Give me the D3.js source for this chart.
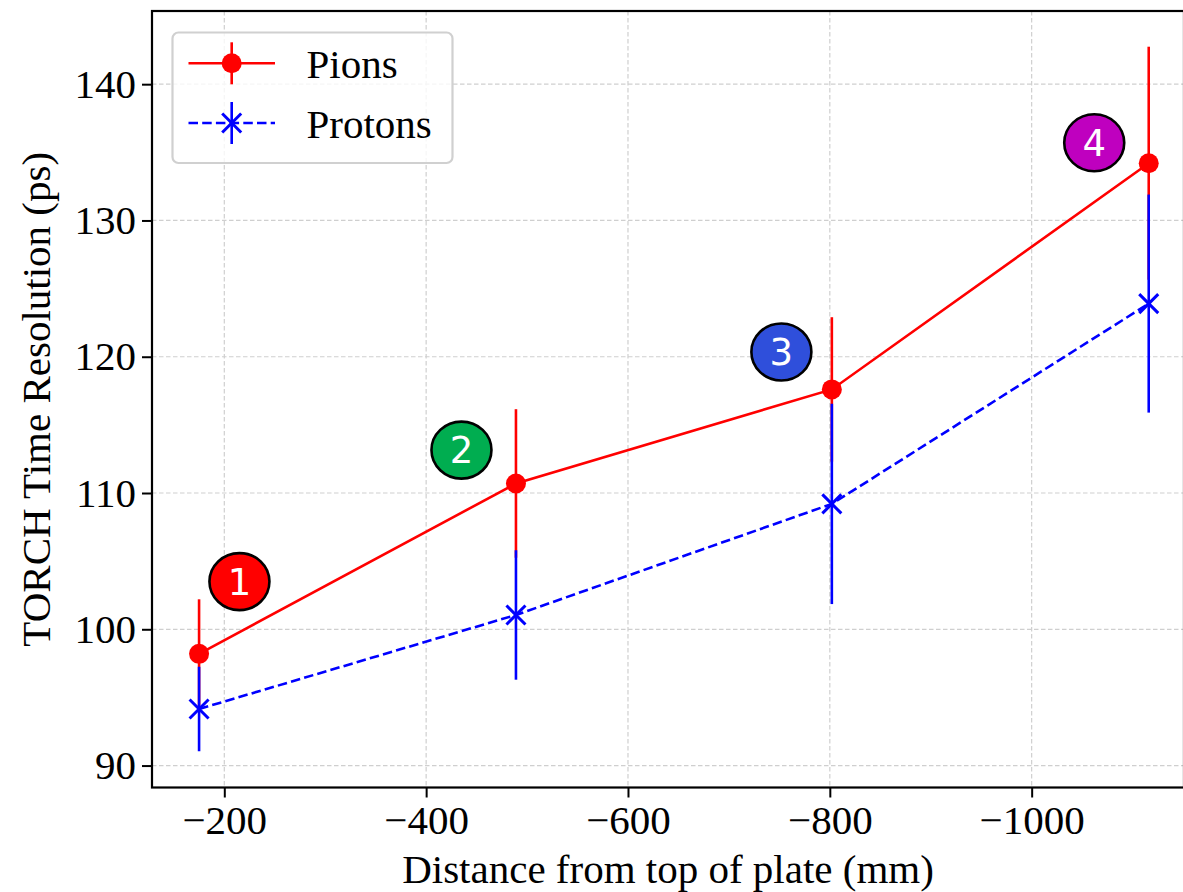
<!DOCTYPE html>
<html>
<head>
<meta charset="utf-8">
<script src="https://cdn.jsdelivr.net/npm/d3@7"></script>
<style>
  html, body { margin: 0; padding: 0; background: #fff; }
  svg { display: block; }
</style>
</head>
<body>
<div id="chart"></div>
<script>
// Measurement positions along the plate (mm) and the time resolution per species (ps)
const distances = [-175, -489, -802, -1116];
const pions = [98.2, 110.7, 117.6, 134.2];
const pionErr = [4.0, 5.45, 5.3, 8.55];
const protons = [94.15, 101.05, 109.2, 123.9];
const protonErr = [3.1, 4.75, 7.35, 8.0];

// Numbered position markers
const badgeLabels = ["1", "2", "3", "4"];
const badgeX = [-215, -435, -752, -1062];
const badgeY = [103.5, 113.15, 120.35, 135.7];
const badgeColors = ["#ff0000", "#00ad50", "#2f4fdb", "#bf00bf"];

// Axis ticks
const xTicks = [-200, -400, -600, -800, -1000];
const yTicks = [90, 100, 110, 120, 130, 140];

const W = 1183, H = 892;
const margin = { left: 152, top: 11, right: 1184, bottom: 787.5 };
const serif = "'Liberation Serif', 'Times New Roman', Times, serif";
const fontSize = 41;
const lw = 2.6;

const svg = d3.select("#chart").append("svg")
  .attr("width", W).attr("height", H)
  .style("background", "#fff");

const x = d3.scaleLinear().domain([-128.36, -1150.95]).range([margin.left, margin.right]);
const y = d3.scaleLinear().domain([88.39, 145.37]).range([margin.bottom, margin.top]);

const fmt = v => String(v).replace("-", "\u2212");

// Grid
const grid = svg.append("g").attr("stroke", "#cfcfcf").attr("stroke-width", 1.2)
  .attr("stroke-dasharray", "4.5,2.5");
grid.selectAll("line.gx").data(xTicks).join("line")
  .attr("x1", d => x(d)).attr("x2", d => x(d))
  .attr("y1", margin.top).attr("y2", margin.bottom);
grid.selectAll("line.gy").data(yTicks).join("line")
  .attr("x1", margin.left).attr("x2", margin.right)
  .attr("y1", d => y(d)).attr("y2", d => y(d));

// Axes
const xAxis = d3.axisBottom(x).tickValues(xTicks).tickFormat(fmt).tickSize(10).tickPadding(6);
const yAxis = d3.axisLeft(y).tickValues(yTicks).tickFormat(d => d).tickSize(10).tickPadding(6);

const gx = svg.append("g").attr("transform", `translate(0,${margin.bottom})`).call(xAxis);
const gy = svg.append("g").attr("transform", `translate(${margin.left},0)`).call(yAxis);
[gx, gy].forEach(g => {
  g.select(".domain").remove();
  g.selectAll(".tick line").attr("stroke", "#000").attr("stroke-width", 2);
  g.selectAll(".tick text").attr("font-family", serif).attr("font-size", fontSize).attr("fill", "#000");
});
gx.selectAll(".tick text").attr("dy", "0.74em");

// Frame
svg.append("rect")
  .attr("x", margin.left).attr("y", margin.top)
  .attr("width", margin.right - margin.left).attr("height", margin.bottom - margin.top)
  .attr("fill", "none").attr("stroke", "#000").attr("stroke-width", 2.2);

// Axis titles
svg.append("text")
  .attr("x", (margin.left + margin.right) / 2).attr("y", 883)
  .attr("text-anchor", "middle")
  .attr("font-family", serif).attr("font-size", fontSize)
  .text("Distance from top of plate (mm)");

svg.append("text")
  .attr("transform", `translate(50,${(margin.top + margin.bottom) / 2}) rotate(-90)`)
  .attr("text-anchor", "middle")
  .attr("font-family", serif).attr("font-size", fontSize)
  .text("TORCH Time Resolution (ps)");

const plot = svg.append("g");

function drawSeries(vals, errs, color, dashed, marker) {
  const pts = distances.map((d, i) => ({ d, v: vals[i], e: errs[i] }));
  const line = d3.line().x(p => x(p.d)).y(p => y(p.v));
  const g = plot.append("g");
  g.append("path").datum(pts)
    .attr("d", line).attr("fill", "none")
    .attr("stroke", color).attr("stroke-width", lw)
    .attr("stroke-dasharray", dashed ? "9.5,4.2" : null);
  g.selectAll("line.err").data(pts).join("line")
    .attr("x1", p => x(p.d)).attr("x2", p => x(p.d))
    .attr("y1", p => y(p.v - p.e)).attr("y2", p => y(p.v + p.e))
    .attr("stroke", color).attr("stroke-width", lw);
  const m = g.selectAll("g.mk").data(pts).join("g")
    .attr("transform", p => `translate(${x(p.d)},${y(p.v)})`);
  marker(m, color);
}

const circleMarker = (sel, color) => sel.append("circle").attr("r", 10).attr("fill", color);
const crossMarker = (sel, color) => sel.append("path")
  .attr("d", "M-9.5,-9.5L9.5,9.5M-9.5,9.5L9.5,-9.5")
  .attr("stroke", color).attr("stroke-width", 3).attr("fill", "none");

drawSeries(pions, pionErr, "#ff0000", false, circleMarker);
drawSeries(protons, protonErr, "#0000ff", true, crossMarker);

// Numbered badges
const badges = plot.selectAll("g.badge").data(badgeLabels).join("g")
  .attr("transform", (d, i) => `translate(${x(badgeX[i])},${y(badgeY[i])})`);
badges.append("ellipse").attr("rx", 30).attr("ry", 28.5)
  .attr("fill", (d, i) => badgeColors[i]).attr("stroke", "#000").attr("stroke-width", 2.6);
badges.append("text")
  .attr("text-anchor", "middle").attr("dy", "0.36em")
  .attr("font-family", "'DejaVu Sans', sans-serif").attr("font-size", 37)
  .attr("fill", "#fff").text(d => d);

// Legend
const legend = svg.append("g");
legend.append("rect")
  .attr("x", 172.5).attr("y", 32.5).attr("width", 280).attr("height", 130.5)
  .attr("rx", 6).attr("fill", "#fff").attr("fill-opacity", 0.8)
  .attr("stroke", "#d0d0d0").attr("stroke-width", 2.2);

const legendItems = [
  { name: "Pions", color: "#ff0000", dashed: false, marker: circleMarker, cy: 63.3 },
  { name: "Protons", color: "#0000ff", dashed: true, marker: crossMarker, cy: 123 }
];
legendItems.forEach(it => {
  const g = legend.append("g");
  g.append("line").attr("x1", 188.5).attr("x2", 275).attr("y1", it.cy).attr("y2", it.cy)
    .attr("stroke", it.color).attr("stroke-width", lw)
    .attr("stroke-dasharray", it.dashed ? "9.5,4.2" : null);
  g.append("line").attr("x1", 231.7).attr("x2", 231.7).attr("y1", it.cy - 21).attr("y2", it.cy + 21)
    .attr("stroke", it.color).attr("stroke-width", lw);
  const m = g.append("g").attr("transform", `translate(231.7,${it.cy})`);
  it.marker(m, it.color);
  g.append("text").attr("x", 306.5).attr("y", it.cy + 14.5)
    .attr("font-family", serif).attr("font-size", fontSize).text(it.name);
});
</script>
</body>
</html>
